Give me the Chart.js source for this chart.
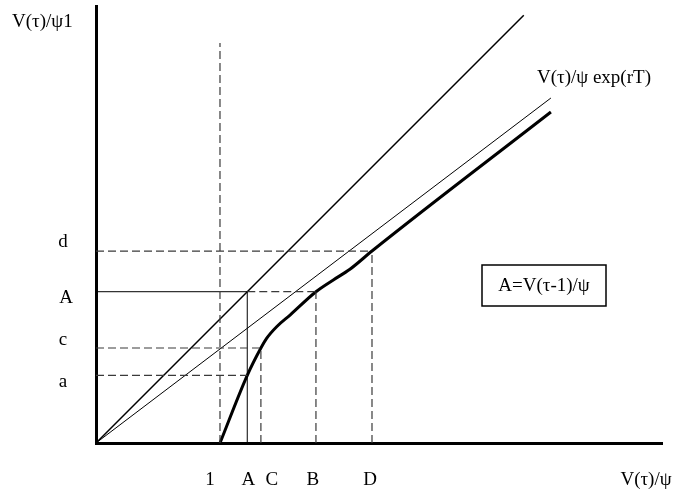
<!DOCTYPE html>
<html>
<head>
<meta charset="utf-8">
<script src="https://cdn.jsdelivr.net/npm/chart.js@4"></script>
<style>
  html, body { margin: 0; padding: 0; background: #fff; }
  #wrap { width: 674px; height: 493px; position: relative; }
</style>
</head>
<body>
<div id="wrap"><canvas id="grafico"></canvas></div>
<script>
// ------------------------
// Dados
// ------------------------

// marcas no eixo horizontal e vertical
const xMarcas = [1, 1.22, 1.33, 1.774, 2.226];
const xRotulos = ['1', 'A', 'C', 'B', 'D'];
const yMarcas = [0.546, 0.766, 1.22, 1.548];
const yRotulos = ['a', 'c', 'A', 'd'];

// curva de valor (traço grosso)
const curvaX = [1, 1.22, 1.33, 1.376, 1.457, 1.565, 1.774, 1.914, 2.048, 2.226, 3.669];
const curvaY = [0, 0.546, 0.766, 0.844, 0.938, 1.032, 1.22, 1.315, 1.401, 1.548, 2.669];

// retas pela origem
const reta45Fim = 3.45;
const retaExpX = [0, 3.669];
const retaExpY = [0, 2.782];

// topo da tracejada vertical em 1
const linhaUmTopo = 3.226;

const xMax = 4.565;
const yMax = 3.524;

const fonte = "19px 'Liberation Serif', 'Times New Roman', serif";

// pequenos ajustes de posição dos rótulos (px)
const xAjuste = [-10, 1, 11, -3, -2];
const yAjuste = [7, -8, 6, -9];

// ------------------------
// Montagem dos datasets
// ------------------------

const [um, xA, xC, xB, xD] = xMarcas;
const [ya, yc, yA, yd] = yMarcas;

function segmento(p1, p2, largura, tracejado) {
  return {
    data: [p1, p2],
    showLine: true,
    borderColor: tracejado ? '#3a3a3a' : '#000',
    borderWidth: largura,
    borderDash: tracejado ? [8, 4] : [],
    pointRadius: 0
  };
}

const datasets = [
  // guias tracejadas
  segmento({ x: um, y: 0 }, { x: um, y: linhaUmTopo }, 1.2, true),
  segmento({ x: xC, y: 0 }, { x: xC, y: yc }, 1.2, true),
  segmento({ x: xB, y: 0 }, { x: xB, y: yA }, 1.2, true),
  segmento({ x: xD, y: 0 }, { x: xD, y: yd }, 1.2, true),
  segmento({ x: 0, y: yd }, { x: xD, y: yd }, 1.2, true),
  segmento({ x: xA, y: yA }, { x: xB, y: yA }, 1.2, true),
  segmento({ x: 0, y: yc }, { x: xC, y: yc }, 1.2, true),
  segmento({ x: 0, y: ya }, { x: xA, y: ya }, 1.2, true),
  // guias cheias em A
  segmento({ x: xA, y: 0 }, { x: xA, y: yA }, 1, false),
  segmento({ x: 0, y: yA }, { x: xA, y: yA }, 1, false),
  // retas
  segmento({ x: 0, y: 0 }, { x: reta45Fim, y: reta45Fim }, 1.5, false),
  segmento({ x: retaExpX[0], y: retaExpY[0] }, { x: retaExpX[1], y: retaExpY[1] }, 1, false),
  // curva
  {
    data: curvaX.map((x, i) => ({ x, y: curvaY[i] })),
    showLine: true,
    borderColor: '#000',
    borderWidth: 3,
    cubicInterpolationMode: 'monotone',
    pointRadius: 0
  }
];

// ------------------------
// Textos avulsos e rótulos dos eixos
// ------------------------

const textosPlugin = {
  id: 'textos',
  afterDraw(chart) {
    const c = chart.ctx;
    const sx = chart.scales.x;
    const sy = chart.scales.y;
    c.save();
    c.font = fonte;
    c.fillStyle = '#000';
    c.textBaseline = 'middle';
    c.textAlign = 'center';

    xMarcas.forEach((v, i) => {
      c.fillText(xRotulos[i], sx.getPixelForValue(v) + xAjuste[i], 480);
    });
    yMarcas.forEach((v, i) => {
      const px = yRotulos[i] === 'A' ? 66 : 63;
      c.fillText(yRotulos[i], px, sy.getPixelForValue(v) + yAjuste[i]);
    });

    c.fillText('V(τ)/ψ', 646, 480);

    c.textAlign = 'left';
    c.fillText('V(τ)/ψ1', 12, 22);
    c.fillText('V(τ)/ψ exp(rT)', 537, 78);

    // caixa com a definição de A
    c.textAlign = 'center';
    c.lineWidth = 1.5;
    c.strokeStyle = '#000';
    c.strokeRect(482, 265, 124, 41);
    c.fillText('A=V(τ-1)/ψ', 544, 286);
    c.restore();
  }
};

// ------------------------
// Gráfico
// ------------------------

const ctx = document.getElementById('grafico').getContext('2d');
new Chart(ctx, {
  type: 'scatter',
  data: { datasets },
  options: {
    responsive: true,
    maintainAspectRatio: false,
    animation: false,
    layout: { padding: { top: 6, right: 12, left: 0, bottom: 0 } },
    plugins: {
      legend: { display: false },
      tooltip: { enabled: false }
    },
    scales: {
      x: {
        type: 'linear',
        min: 0,
        max: xMax,
        grid: { display: false, drawTicks: false },
        border: { display: true, color: '#000', width: 3 },
        ticks: { display: false },
        afterFit: s => {
          s.height = 50;
          s.paddingLeft = 0;
          s.paddingRight = 0;
        }
      },
      y: {
        type: 'linear',
        min: 0,
        max: yMax,
        grid: { display: false, drawTicks: false },
        border: { display: true, color: '#000', width: 3 },
        ticks: { display: false },
        afterFit: s => {
          s.width = 96;
          s.paddingTop = 0;
          s.paddingBottom = 0;
        }
      }
    }
  },
  plugins: [textosPlugin]
});
</script>
</body>
</html>
